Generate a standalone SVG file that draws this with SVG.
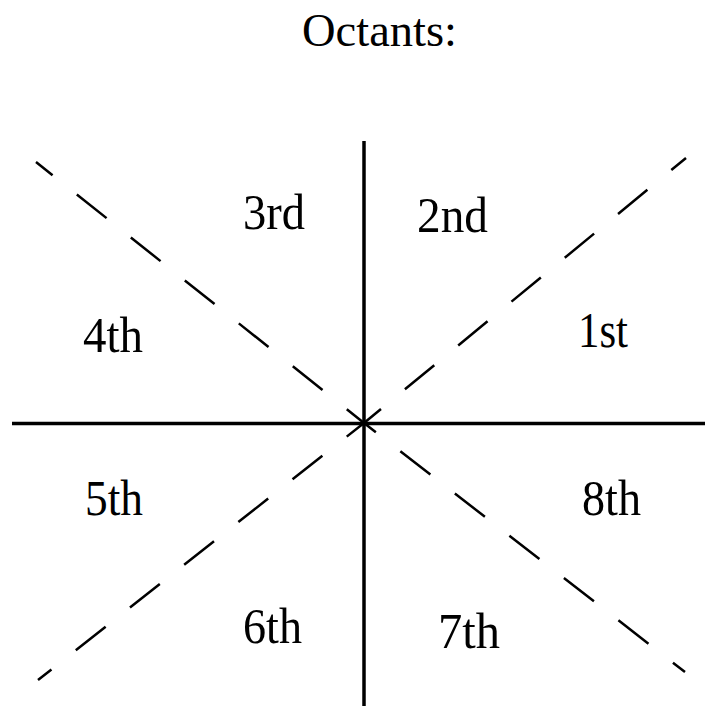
<svg xmlns="http://www.w3.org/2000/svg" width="705" height="706" viewBox="0 0 705 706">
<style>
.axis{stroke:#000;stroke-width:3.5;fill:none}
.diag{stroke:#000;stroke-width:2.5;fill:none;stroke-dasharray:38 31;stroke-dashoffset:16}
text{font-family:"Liberation Serif","Times New Roman",serif;fill:#000}
.lbl{font-size:50px}
.title{font-size:46px}
</style>
<rect width="705" height="706" fill="#fff"/>
<g id="title"><text class="title" x="302" y="46" textLength="155" lengthAdjust="spacingAndGlyphs">Octants:</text></g>
<g id="connectors">
<line class="axis" x1="12" y1="423.5" x2="705" y2="423.5"/>
<line class="axis" x1="364" y1="141" x2="364" y2="706"/>
<line class="diag" x1="364" y1="423" x2="36" y2="162"/>
<line class="diag" x1="364" y1="423" x2="686" y2="158"/>
<line class="diag" x1="364" y1="423" x2="38" y2="680"/>
<line class="diag" x1="364" y1="423" x2="685" y2="672" style="stroke-dashoffset:23"/>
</g>
<g id="o1"><text class="lbl" x="578" y="347" textLength="50" lengthAdjust="spacingAndGlyphs">1st</text></g>
<g id="o2"><text class="lbl" x="417" y="232" textLength="71" lengthAdjust="spacingAndGlyphs">2nd</text></g>
<g id="o3"><text class="lbl" x="243" y="229" textLength="62" lengthAdjust="spacingAndGlyphs">3rd</text></g>
<g id="o4"><text class="lbl" x="83" y="352" textLength="60" lengthAdjust="spacingAndGlyphs">4th</text></g>
<g id="o5"><text class="lbl" x="85" y="515" textLength="58" lengthAdjust="spacingAndGlyphs">5th</text></g>
<g id="o6"><text class="lbl" x="243" y="643" textLength="59" lengthAdjust="spacingAndGlyphs">6th</text></g>
<g id="o7"><text class="lbl" x="438" y="648" textLength="62" lengthAdjust="spacingAndGlyphs">7th</text></g>
<g id="o8"><text class="lbl" x="582" y="515" textLength="59" lengthAdjust="spacingAndGlyphs">8th</text></g>
</svg>
